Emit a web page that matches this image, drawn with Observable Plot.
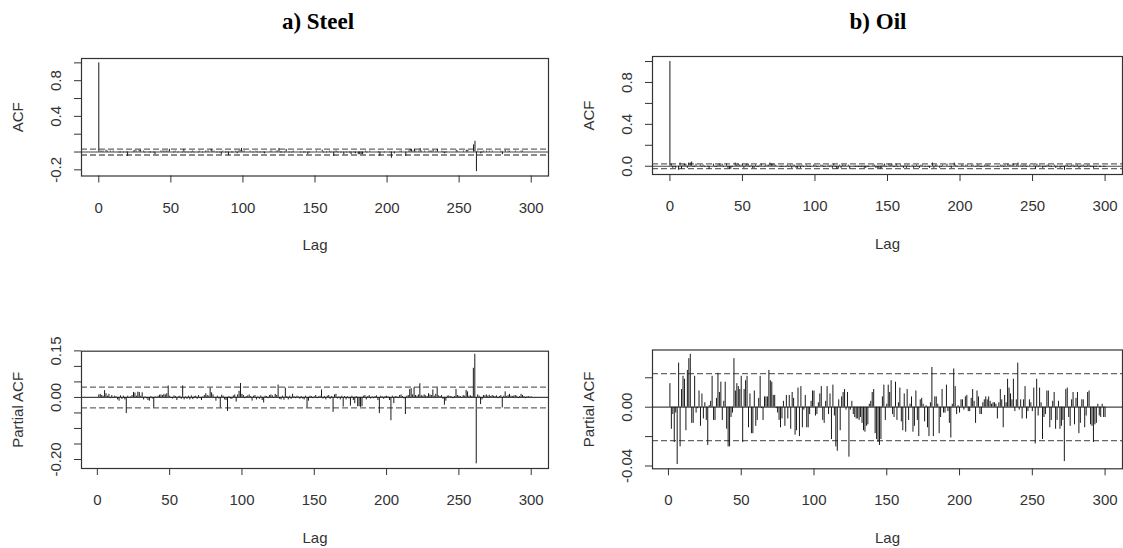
<!DOCTYPE html>
<html>
<head>
<meta charset="utf-8">
<script src="https://cdn.jsdelivr.net/npm/d3@7"></script>
<script src="https://cdn.jsdelivr.net/npm/@observablehq/plot@0.6"></script>
<style>
  html, body { margin: 0; padding: 0; background: #fff; }
  #wrap { position: relative; width: 1123px; height: 548px; overflow: hidden; background: #fff; }
  .title { position: absolute; font-family: "Liberation Serif", "Times New Roman", serif; font-weight: bold;
           font-size: 23px; color: #000; transform: translate(-50%, -50%); white-space: nowrap; }
  .panel { position: absolute; }
</style>
</head>
<body>
<div id="wrap">
  <div class="title" style="left:318px; top:22px;">a) Steel</div>
  <div class="title" style="left:878px; top:22px;">b) Oil</div>
</div>
<script>
// ---------------- data ----------------
const panelTitles = ["a) Steel", "b) Oil"];
const xTicks = [0, 50, 100, 150, 200, 250, 300];

// Steel ACF, lags 0..300
const steelAcf = [1.00,
 .01,.01,.01,.00,.02,.01,.00,.01,.00,.01,
 .00,.00,.00,-.01,-.01,.00,-.01,.00,-.01,-.05,
 .00,.00,.00,.01,.02,.01,.00,.02,.02,.00,
 .01,-.01,.00,.00,-.01,-.01,.00,-.01,-.03,.00,
 .00,.00,.01,.01,.01,.01,.01,.01,.03,.00,
 .00,-.01,.01,.00,-.01,.00,.00,-.01,.03,-.01,
 .00,-.01,.00,-.01,.01,-.01,.00,.00,-.01,.01,
 .00,-.01,.00,.01,.01,.01,.00,.03,.01,.01,
 .00,-.01,.00,-.01,-.03,.01,.00,-.01,-.01,-.04,
 .00,-.01,-.01,.00,.01,-.02,.01,.02,.04,.01,
 .01,.00,.00,.00,.01,.00,-.01,.00,.01,-.01,
 .00,-.01,.00,-.01,-.02,.00,.00,.00,.01,.01,
 .00,.00,.01,.01,.04,-.01,-.01,.00,-.01,.03,
 .00,-.01,.00,-.01,.01,.00,.00,.00,.00,-.01,
 .00,-.01,-.01,.00,-.03,-.01,.00,.00,.00,.00,
 .01,.00,.00,.00,.02,-.01,.00,-.01,.00,.01,
 -.01,.00,-.05,.01,.01,-.01,.00,-.01,.00,-.03,
 .00,-.01,.00,-.01,-.03,.00,-.01,-.02,.00,-.03,
 -.03,-.03,-.03,.00,.01,-.01,.00,.01,.00,.00,
 .00,.00,.00,-.01,-.05,.00,.00,-.01,.00,.00,
 .00,-.01,-.07,.00,-.02,.00,.00,.00,.01,.01,
 .00,.00,-.05,.00,.01,.03,.03,.01,.03,.01,
 .00,.01,.04,.01,.00,.01,.00,.00,.01,.01,
 .01,.02,.00,.01,.03,.00,.00,.01,-.01,-.02,
 -.01,.00,.00,.00,.00,.00,.00,.02,.01,.00,
 .00,.00,.01,.00,.02,.02,.00,.00,.00,.08,
 .12,-.22,.01,.00,-.02,-.01,.01,.00,.01,.00,
 .01,.00,.01,.00,.00,.00,.00,.00,.01,-.03,
 .00,.02,.00,.01,.01,.00,.00,.00,.01,.00,
 .00,.00,.01,.01,.00,.00,.00,.00,.00,.00];

// Oil ACF, lags 0..300
const oilAcf = [1.00,
 .02,-.02,-.01,-.02,.00,-.04,.03,-.03,.01,.02,
 .02,-.02,.03,.03,.04,-.01,-.01,.02,.00,.00,
 .01,-.01,.01,-.01,.00,-.01,-.03,.00,.00,.02,
 -.01,-.01,.01,.02,.01,.02,-.01,.00,.02,-.02,
 -.03,-.03,-.01,.00,.03,.01,.02,.01,.01,.02,
 -.02,.01,.02,.02,-.01,.01,-.02,-.02,.01,-.01,
 -.01,.01,.02,.00,-.01,.01,.01,.01,.03,.02,
 .02,.01,.01,.00,.00,-.01,-.01,-.01,.00,-.01,
 .01,-.01,.01,-.02,.01,.01,-.02,-.02,.01,-.02,
 .01,-.01,.00,.01,-.01,-.01,-.01,.00,.01,.01,
 -.01,-.01,.00,.01,.01,-.01,-.01,.00,.01,-.01,
 .01,-.02,.02,-.01,-.03,-.03,.01,-.02,.01,.01,
 .01,.00,.01,-.03,.00,.00,-.01,-.01,-.01,-.01,
 -.01,-.01,-.01,-.02,-.02,-.01,-.01,.00,.00,.01,
 .01,-.02,-.02,-.02,-.03,-.02,.01,.02,-.01,.00,
 .02,.01,.02,-.01,-.01,.02,-.01,.00,.01,-.01,
 -.02,.01,-.02,.01,-.01,.00,.01,-.02,-.01,.01,
 -.01,-.02,.01,.01,.00,-.01,.00,-.01,-.02,.00,
 .03,-.02,.01,.01,.00,-.02,-.01,.01,.00,.00,
 .02,.00,-.01,-.02,.00,.03,.01,-.01,.00,.00,
 .01,.01,.00,.01,.01,.00,.00,.01,.01,.00,
 -.01,.01,.01,-.01,-.01,.00,.01,.01,.01,.01,
 .00,.00,.00,.00,.00,-.01,.00,.01,.01,-.01,
 .01,.00,.02,.01,.01,.01,.02,.00,.01,.03,
 .00,.01,-.01,.01,.01,-.01,.00,.01,.00,.00,
 .01,-.03,.02,-.01,.01,.00,-.02,-.01,-.01,.01,
 .01,-.01,-.01,.00,.01,-.02,-.01,.00,-.02,-.01,
 -.01,-.04,.01,.01,-.01,-.01,.01,.01,-.01,.01,
 .01,-.02,-.01,.01,.01,-.01,-.01,.01,.01,-.01,
 -.01,-.02,-.01,-.01,.00,-.01,-.01,.00,-.01,-.01];

// Steel partial ACF, lags 1..300
const steelPacf = [
 .008,.010,.006,.004,.022,.012,.004,.010,-.004,.006,
 -.003,.004,.002,-.008,-.012,.005,-.006,.004,-.008,-.052,
 .004,-.003,.002,.006,.016,.014,.004,.017,.016,.004,
 .015,-.008,.002,-.004,-.010,-.012,.003,-.005,-.034,.002,
 -.002,.004,.007,.008,.006,.010,.008,.012,.037,.004,
 -.003,-.005,.005,.003,-.010,.002,.004,-.006,.037,-.008,
 .002,-.006,.004,-.008,.005,-.007,.003,.004,-.006,.006,
 -.004,-.010,.002,.006,.012,.006,.004,.030,.015,.008,
 -.002,-.012,.004,-.005,-.034,.007,.004,-.008,-.010,-.045,
 .003,-.005,-.006,.005,.008,-.015,.008,.020,.045,.010,
 .006,-.004,.003,.005,.008,.003,-.012,.004,.006,-.008,
 .002,-.006,.005,-.010,-.018,.004,.003,-.004,.006,.008,
 .005,-.003,.010,.006,.040,-.006,-.008,.004,-.009,.030,
 .003,-.008,.004,-.006,.010,.003,-.004,.004,.002,-.006,
 .003,-.005,-.008,.004,-.034,-.012,.004,.003,-.004,.002,
 .006,-.004,.002,.004,.024,-.005,.003,-.008,.004,.006,
 -.006,.003,-.048,.008,.010,-.005,.002,-.008,.004,-.031,
 .003,-.008,.002,-.005,-.028,.004,-.010,-.020,.003,-.030,
 -.030,-.032,-.030,.004,.006,-.008,.003,.006,-.005,.002,
 -.004,.003,.005,-.010,-.052,.004,.002,-.006,.003,.004,
 .002,-.010,-.075,.004,-.020,.003,.002,-.004,.006,.008,
 .003,-.005,-.055,.004,.006,.026,.028,.008,.031,.006,
 .004,.008,.044,.006,.004,.008,.005,.003,.012,.008,
 .006,.024,.004,.010,.030,.005,.003,.006,-.006,-.025,
 -.012,.004,.005,.003,.002,-.004,.003,.026,.006,.004,
 .003,-.003,.006,.004,.023,.018,.004,.005,.003,.094,
 .139,-.214,.008,.004,-.023,-.008,.006,.005,.008,.004,
 .007,.003,.006,.004,.003,.005,-.004,.003,.006,-.034,
 .004,.018,.003,.006,.010,.004,.003,.005,.006,.004,
 -.004,.003,.010,.006,.003,-.004,.002,.003,.001,.002];

// Oil partial ACF, lags 1..300
const oilPacf = [
 .016,-.015,-.005,-.024,-.004,-.039,.030,-.027,.012,.021,
 .019,-.016,.025,.033,.036,-.011,-.011,.021,-.004,-.001,
 .011,-.013,.009,-.008,.003,-.009,-.026,.001,.004,.021,
 -.009,-.009,.006,.023,.010,.017,-.009,.004,.017,-.015,
 -.027,-.027,-.007,-.004,.033,.011,.016,.014,.012,.021,
 -.024,.012,.018,.021,-.014,.009,-.018,-.018,.011,-.013,
 -.009,.006,.021,-.001,-.009,.007,.007,.007,.025,.018,
 .017,.008,.008,-.001,-.004,-.009,-.014,-.008,.004,-.013,
 .008,-.008,.008,-.015,.010,.006,-.019,-.016,.013,-.020,
 .014,-.014,-.002,.008,-.014,-.014,-.005,.004,.011,.011,
 -.006,-.005,.003,.009,.014,-.009,-.011,.004,.014,-.005,
 .009,-.022,.015,-.006,-.027,-.030,.005,-.016,.007,.010,
 .012,-.002,.010,-.034,-.002,.004,-.005,-.007,-.008,-.008,
 -.009,-.007,-.011,-.016,-.017,-.013,-.012,.002,.004,.010,
 .012,-.018,-.022,-.024,-.026,-.022,.007,.015,-.009,.002,
 .015,.010,.018,-.005,-.007,.017,-.009,.003,.013,-.010,
 -.016,.009,-.017,.012,-.009,.002,.007,-.017,-.013,.011,
 -.009,-.020,.005,.006,.002,-.010,.001,-.014,-.020,.003,
 .027,-.020,.007,.007,.002,-.018,-.007,.012,-.004,-.004,
 .015,-.003,-.011,-.021,.002,.026,.014,-.005,.001,-.004,
 .005,.005,-.002,.007,.008,-.003,-.003,.006,.012,.004,
 -.011,.011,.007,-.005,-.005,.003,.005,.007,.005,.007,
 .004,.002,.003,.003,.002,-.008,.003,.012,.005,-.014,
 .008,.003,.019,.013,.009,.005,.019,-.003,.005,.030,
 -.002,.005,-.008,.005,.014,-.008,-.003,.005,.003,-.003,
 .013,-.025,.019,-.006,.013,.003,-.022,-.007,-.005,.011,
 .011,-.014,-.009,.004,.010,-.015,-.009,.004,-.015,-.013,
 -.009,-.037,.012,.013,-.007,-.013,.005,.010,-.012,.006,
 .010,-.018,-.011,.005,.005,-.014,-.006,.010,.011,-.012,
 -.013,-.024,-.012,-.011,.002,-.006,-.007,.002,-.007,-.007];

// 95% confidence bounds (dashed lines)
const confBand = { steel: 0.0335, oil: 0.0228 };

// y axis ticks and the subset that carries labels
const steelAcfTicks = [-0.2, 0, 0.2, 0.4, 0.6, 0.8, 1.0];
const steelAcfLabels = [-0.2, 0.4, 0.8];
const oilAcfTicks = [0, 0.2, 0.4, 0.6, 0.8, 1.0];
const oilAcfLabels = [0, 0.4, 0.8];
const steelPacfTicks = [-0.2, -0.15, -0.1, -0.05, 0, 0.05, 0.1, 0.15];
const steelPacfLabels = [-0.2, 0, 0.15];
const oilPacfTicks = [-0.04, -0.02, 0, 0.02];
const oilPacfLabels = [-0.04, 0];

// ---------------- drawing ----------------
const FONT = "'Liberation Sans', Arial, Helvetica, sans-serif";

function panel(cfg) {
  const rows = cfg.values.map((v, i) => ({ lag: cfg.firstLag + i, value: v }));
  const svg = Plot.plot({
    width: cfg.w, height: cfg.h,
    marginLeft: cfg.ml, marginRight: cfg.mr, marginTop: cfg.mt, marginBottom: cfg.mb,
    style: { fontFamily: FONT, fontSize: "15px", color: "#333", background: "transparent", overflow: "visible" },
    x: { domain: cfg.xDomain },
    y: { domain: cfg.yDomain },
    marks: [
      Plot.ruleY([0], { stroke: "#444", strokeWidth: 1.2 }),
      Plot.ruleY([cfg.band, -cfg.band], { stroke: "#666", strokeWidth: 1.3, strokeDasharray: "6,3" }),
      Plot.ruleX(rows, { x: "lag", y1: 0, y2: "value", stroke: "#1a1a1a", strokeWidth: 1 }),
      Plot.frame({ stroke: "#333", strokeWidth: 1.2 }),
      Plot.axisX({ ticks: xTicks, tickSize: 7, tickPadding: 19, label: null, stroke: "#333", fill: "#333", fontSize: 15 }),
      Plot.axisY({ ticks: cfg.yTicks, tickSize: 7, label: null, stroke: "#333", fill: "none" }),
      Plot.text(cfg.yLabels, { y: d => d, text: d => d.toFixed(cfg.digits), frameAnchor: "left", dx: -25,
                               rotate: -90, textAnchor: "middle", lineAnchor: "middle", fill: "#333", fontSize: 15 }),
      Plot.text(["Lag"], { text: d => d, frameAnchor: "bottom", dy: 69.5, textAnchor: "middle", lineAnchor: "middle",
                           fill: "#333", fontSize: 15 }),
      Plot.text([cfg.ylabel], { text: d => d, frameAnchor: "left", dx: -63, rotate: -90, textAnchor: "middle",
                                lineAnchor: "middle", fill: "#333", fontSize: 15 })
    ]
  });
  svg.classList.add("panel");
  svg.style.left = cfg.left + "px";
  svg.style.top = cfg.top + "px";
  document.getElementById("wrap").appendChild(svg);
}

panel({ values: steelAcf, firstLag: 0, left: 0, top: 0, w: 561, h: 274, ml: 81, mr: 13, mt: 58, mb: 98.5,
        xDomain: [-12, 312], yDomain: [-0.269, 1.049], yTicks: steelAcfTicks, yLabels: steelAcfLabels, digits: 1,
        band: confBand.steel, ylabel: "ACF" });
panel({ values: oilAcf, firstLag: 0, left: 561, top: 0, w: 562, h: 274, ml: 91, mr: 1, mt: 56, mb: 100,
        xDomain: [-12, 312], yDomain: [-0.079, 1.048], yTicks: oilAcfTicks, yLabels: oilAcfLabels, digits: 1,
        band: confBand.oil, ylabel: "ACF" });
panel({ values: steelPacf, firstLag: 1, left: 0, top: 274, w: 561, h: 274, ml: 81, mr: 13, mt: 76.7, mb: 80,
        xDomain: [-10.96, 311.96], yDomain: [-0.229, 0.149], yTicks: steelPacfTicks, yLabels: steelPacfLabels, digits: 2,
        band: confBand.steel, ylabel: "Partial ACF" });
panel({ values: oilPacf, firstLag: 1, left: 561, top: 274, w: 562, h: 274, ml: 91, mr: 1, mt: 75.5, mb: 79.7,
        xDomain: [-10.96, 311.96], yDomain: [-0.0419, 0.0389], yTicks: oilPacfTicks, yLabels: oilPacfLabels, digits: 2,
        band: confBand.oil, ylabel: "Partial ACF" });
</script>
</body>
</html>
